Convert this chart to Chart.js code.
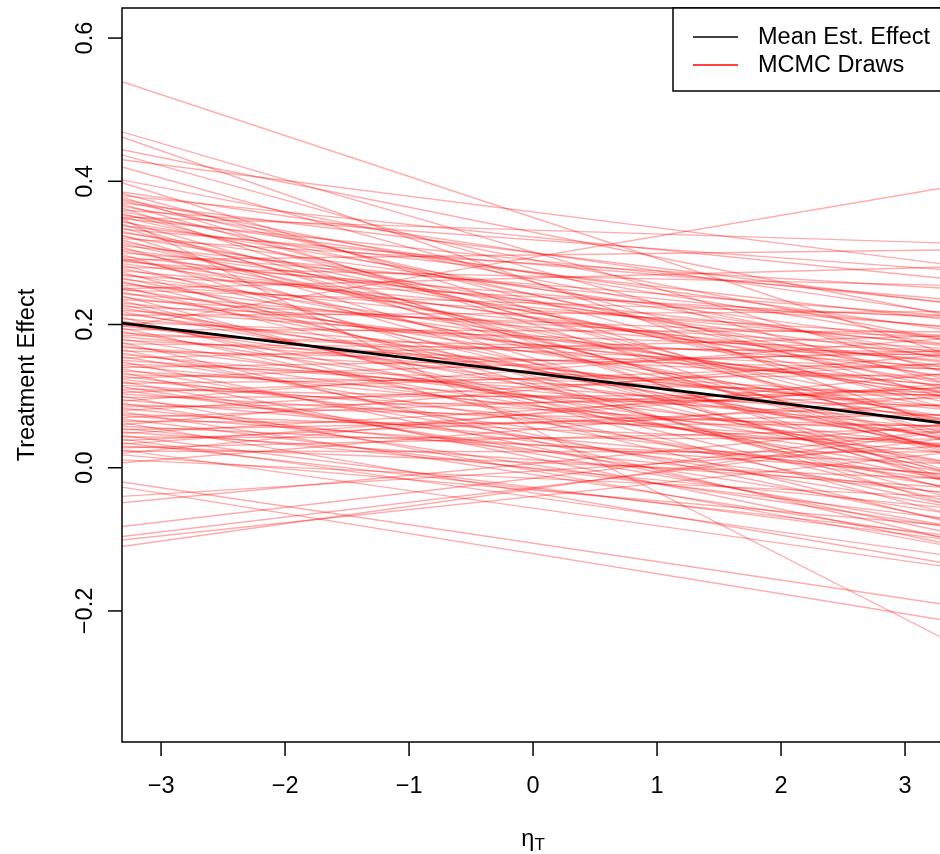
<!DOCTYPE html>
<html>
<head>
<meta charset="utf-8">
<script src="https://cdn.jsdelivr.net/npm/chart.js@4.4.1/dist/chart.umd.min.js"></script>
<style>
  html, body { margin: 0; padding: 0; background: #fff; }
  canvas { display: block; }
</style>
</head>
<body>
<canvas id="graphCanvas" width="940" height="854"></canvas>
<script>
// x positions where the draws were read (left edge / right edge of the plot)
let xEnds = [-3.315, 3.282];
let meanEffect = [0.202, 0.063];

// MCMC draws: value at left edge and value at right edge (paired by index)
let drawsLeft = [
  0.539, 0.469, 0.462, 0.444, 0.437, 0.430, 0.420, 0.402, 0.398, 0.348, 0.350, 0.290, 0.250, 0.197,
  0.385, 0.383, 0.380, 0.378, 0.375, 0.373, 0.370, 0.368, 0.365, 0.363,
  0.360, 0.358, 0.355, 0.353, 0.350, 0.348, 0.345, 0.343, 0.340, 0.338,
  0.335, 0.333, 0.330, 0.328, 0.325, 0.323, 0.320, 0.318, 0.315, 0.313,
  0.310, 0.308, 0.305, 0.303, 0.300, 0.298, 0.295, 0.293, 0.290, 0.288,
  0.285, 0.283, 0.280, 0.278, 0.275, 0.273, 0.270, 0.268, 0.265, 0.263,
  0.260, 0.258, 0.255, 0.253, 0.250, 0.248, 0.245, 0.243, 0.240, 0.238,
  0.235, 0.233, 0.230, 0.228, 0.225, 0.223, 0.220, 0.218, 0.215, 0.213,
  0.210, 0.208, 0.205, 0.203, 0.200, 0.198, 0.195, 0.193, 0.190, 0.188,
  0.185, 0.183, 0.180, 0.178, 0.175, 0.173, 0.170, 0.168, 0.165, 0.163,
  0.160, 0.158, 0.155, 0.153, 0.150, 0.148, 0.145, 0.143, 0.140, 0.138,
  0.135, 0.133, 0.130, 0.128, 0.125, 0.123, 0.120, 0.118, 0.115, 0.113,
  0.110, 0.108, 0.105, 0.103, 0.100, 0.098, 0.095, 0.093, 0.090, 0.088,
  0.085, 0.083, 0.080, 0.078, 0.075, 0.073, 0.070, 0.068, 0.065, 0.063,
  0.060, 0.058, 0.055, 0.053, 0.050, 0.048, 0.045, 0.043, 0.040, 0.038,
  0.035, 0.033, 0.030, 0.028, 0.025, 0.023, 0.020, 0.018,
  -0.027, -0.020, -0.040, -0.049, -0.082, -0.096, -0.101, -0.110, 0.007, 0.011
];
let drawsRight = [
  0.162, 0.135, 0.060, 0.215, 0.120, 0.285, 0.100, 0.180, 0.045, -0.236, 0.314, 0.304, 0.280, 0.390,
  0.217, 0.086, 0.265, 0.024, 0.153, 0.112, 0.231, 0.050, 0.179, -0.012,
  0.277, 0.126, 0.065, 0.194, 0.093, 0.232, 0.021, 0.160, -0.001, 0.208,
  0.027, 0.236, 0.105, 0.174, -0.017, 0.142, 0.251, 0.040, 0.119, 0.068,
  0.197, -0.014, 0.155, 0.084, 0.213, -0.048, 0.171, 0.040, 0.129, 0.198,
  0.137, -0.004, 0.255, 0.064, 0.173, -0.038, 0.101, 0.210, 0.029, 0.148,
  -0.003, 0.106, 0.185, -0.026, 0.073, 0.212, 0.031, 0.150, -0.061, 0.108,
  0.167, -0.044, 0.115, -0.026, 0.183, 0.042, 0.141, 0.010, 0.069, 0.218,
  -0.073, 0.116, -0.015, 0.164, 0.043, 0.082, -0.049, 0.190, 0.009, 0.138,
  0.157, 0.086, -0.005, 0.124, -0.097, 0.162, 0.031, 0.100, -0.071, 0.138,
  0.007, 0.056, -0.025, 0.184, 0.073, -0.088, 0.101, 0.030, 0.159, -0.052,
  0.067, -0.104, 0.105, -0.016, 0.163, 0.022, -0.079, 0.130, 0.049, -0.062,
  0.087, -0.034, 0.145, 0.034, -0.107, 0.102, -0.009, 0.180, -0.081, 0.058,
  0.097, -0.034, 0.145, -0.096, 0.033, -0.008, 0.111, -0.070, 0.059, -0.132,
  0.157, 0.006, -0.055, 0.074, -0.027, 0.112, -0.099, 0.040, -0.121, 0.088,
  -0.093, 0.116, -0.015, 0.054, -0.137, 0.022, 0.131, -0.080,
  -0.212, -0.190, 0.030, 0.060, 0.052, 0.040, 0.020, 0.050, 0.100, -0.040
];

let xTicks = [-3, -2, -1, 0, 1, 2, 3];
let xTickLabels = ['\u22123', '\u22122', '\u22121', '0', '1', '2', '3'];
let yTicks = [-0.2, 0, 0.2, 0.4, 0.6];
let yTickLabels = ['\u22120.2', '0.0', '0.2', '0.4', '0.6'];
let legendLabels = ['Mean Est. Effect', 'MCMC Draws'];

const FONT = '"Liberation Sans", Arial, Helvetica, sans-serif';

let datasets = [];
datasets.push({
  label: legendLabels[0],
  data: [{x: xEnds[0], y: meanEffect[0]}, {x: xEnds[1], y: meanEffect[1]}],
  showLine: true,
  borderColor: '#000000',
  borderWidth: 2.9,
  pointRadius: 0,
  order: 0
});
for (let i in drawsLeft) {
  datasets.push({
    label: legendLabels[1],
    data: [{x: xEnds[0], y: drawsLeft[i]}, {x: xEnds[1], y: drawsRight[i]}],
    showLine: true,
    borderColor: 'rgba(255,0,0,0.33)',
    borderWidth: 1.4,
    pointRadius: 0,
    order: 1
  });
}

// axes, box, labels and legend drawn in R style
const rDecor = {
  id: 'rDecor',
  afterDraw(chart) {
    const ctx = chart.ctx;
    const area = chart.chartArea;
    const xs = chart.scales.x;
    const ys = chart.scales.y;
    ctx.save();
    ctx.strokeStyle = '#000';
    ctx.fillStyle = '#000';
    ctx.lineWidth = 1.5;

    // box (right side is outside the picture)
    ctx.beginPath();
    ctx.moveTo(area.right + 10, area.top);
    ctx.lineTo(area.left, area.top);
    ctx.lineTo(area.left, area.bottom);
    ctx.lineTo(area.right + 10, area.bottom);
    ctx.stroke();

    ctx.font = '23.5px ' + FONT;
    // x axis
    ctx.textAlign = 'center';
    ctx.textBaseline = 'alphabetic';
    xTicks.forEach((v, i) => {
      const px = xs.getPixelForValue(v);
      ctx.beginPath();
      ctx.moveTo(px, area.bottom);
      ctx.lineTo(px, area.bottom + 14);
      ctx.stroke();
      ctx.fillText(xTickLabels[i], px, 793);
    });
    // y axis
    yTicks.forEach((v, i) => {
      const py = ys.getPixelForValue(v);
      ctx.beginPath();
      ctx.moveTo(area.left - 14, py);
      ctx.lineTo(area.left, py);
      ctx.stroke();
      ctx.save();
      ctx.translate(92, py);
      ctx.rotate(-Math.PI / 2);
      ctx.fillText(yTickLabels[i], 0, 0);
      ctx.restore();
    });

    // y title
    ctx.save();
    ctx.translate(34, (area.top + area.bottom) / 2);
    ctx.rotate(-Math.PI / 2);
    ctx.fillText('Treatment Effect', 0, 0);
    ctx.restore();

    // x title: eta with subscript T
    const cx = xs.getPixelForValue(0);
    ctx.font = '23.5px ' + FONT;
    const wEta = ctx.measureText('\u03b7').width;
    ctx.font = '17px ' + FONT;
    const wT = ctx.measureText('T').width;
    const start = cx - (wEta + wT) / 2;
    ctx.textAlign = 'left';
    ctx.font = '23.5px ' + FONT;
    ctx.fillText('\u03b7', start, 846);
    ctx.font = '17px ' + FONT;
    ctx.fillText('T', start + wEta, 850);

    // legend
    const lx = 673, ly = area.top;
    ctx.fillStyle = '#fff';
    ctx.fillRect(lx, ly, 300, 83);
    ctx.strokeStyle = '#000';
    ctx.lineWidth = 1.5;
    ctx.strokeRect(lx, ly, 300, 83);
    const rows = [37, 65];
    const cols = ['#000000', '#ff0000'];
    ctx.font = '23.5px ' + FONT;
    ctx.textBaseline = 'middle';
    rows.forEach((ry, i) => {
      ctx.strokeStyle = cols[i];
      ctx.lineWidth = 1.4;
      ctx.beginPath();
      ctx.moveTo(693, ry);
      ctx.lineTo(738, ry);
      ctx.stroke();
      ctx.fillStyle = '#000';
      ctx.fillText(legendLabels[i], 758, ry + 1);
    });
    ctx.restore();
  }
};

let graphTarget = document.getElementById('graphCanvas');
let lineGraph = new Chart(graphTarget, {
  type: 'scatter',
  data: { datasets: datasets },
  options: {
    responsive: false,
    animation: false,
    events: [],
    layout: { padding: { top: 8, left: 0, right: 0, bottom: 0 } },
    plugins: { legend: { display: false }, tooltip: { enabled: false } },
    scales: {
      x: {
        type: 'linear',
        min: -3.315,
        max: 3.282,
        grid: { display: false },
        border: { display: false },
        ticks: { display: false },
        afterFit: function(scale) { scale.height = 112; }
      },
      y: {
        type: 'linear',
        min: -0.383,
        max: 0.642,
        grid: { display: false },
        border: { display: false },
        ticks: { display: false },
        afterFit: function(scale) { scale.width = 122; }
      }
    }
  },
  plugins: [rDecor]
});
</script>
</body>
</html>
